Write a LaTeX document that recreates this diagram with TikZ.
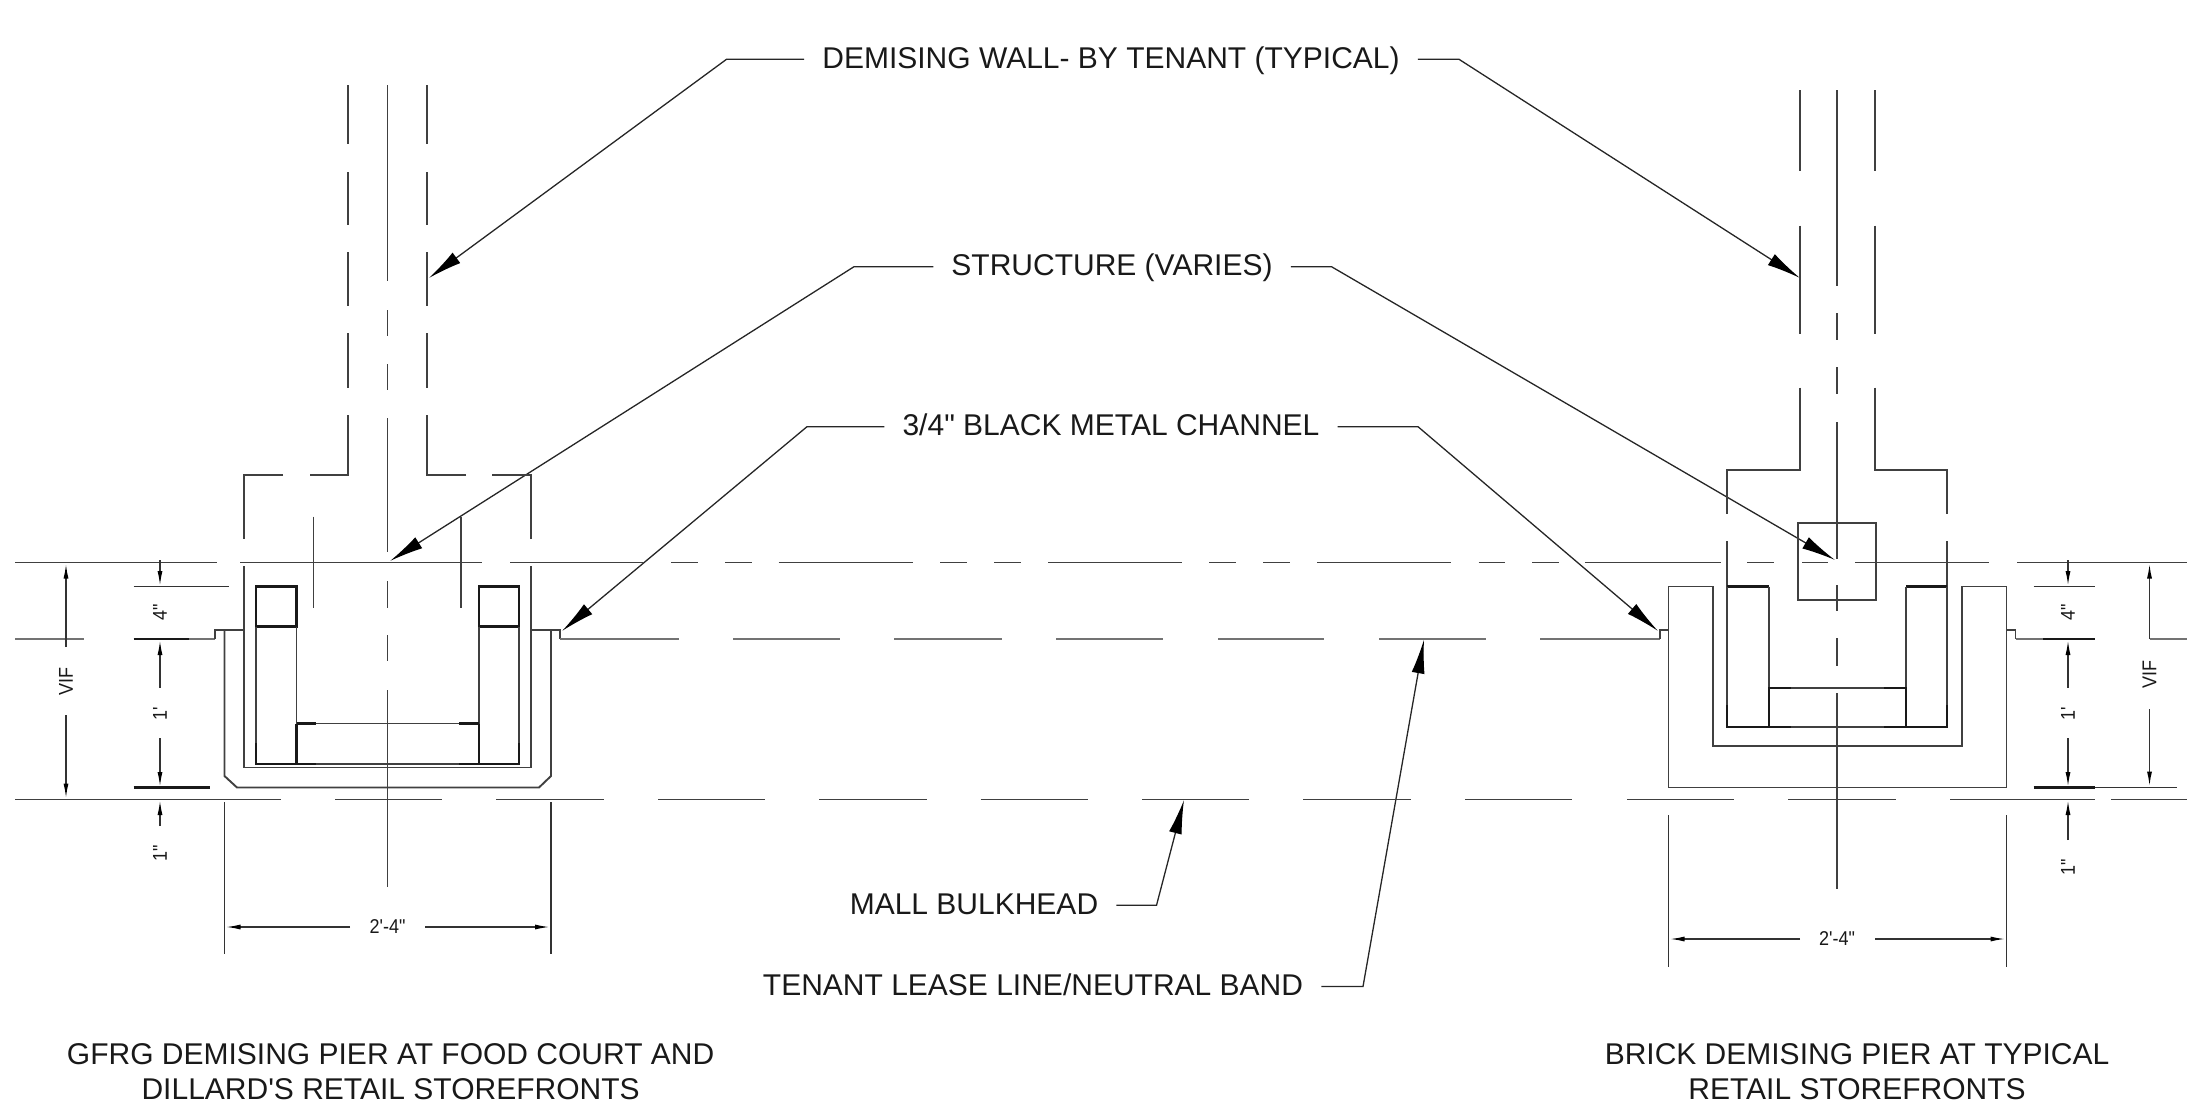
\documentclass[tikz,border=0pt]{standalone}
\usepackage{fontspec}
\usepackage{tikz}
\usetikzlibrary{arrows.meta}
\newfontfamily\cadfont{Liberation Sans}
\newfontfamily\dimfont[FakeStretch=0.9]{Liberation Sans}
\tikzset{
  plan/.style={line width=1.9pt,black!75},
  heavy/.style={line width=2.8pt,black!90},
  band/.style={line width=2.8pt,black!55},
  leader/.style={line width=1.3pt,black!85,-{Latex[length=34pt,width=13pt,black]}},
  dimline/.style={line width=1.5pt,black!80},
  dimhead/.style={dimline,-{Latex[length=15pt,width=5pt,black]}},
  callout/.style={font=\cadfont\fontsize{30}{36}\selectfont,text=black!90,inner xsep=18pt,inner ysep=0pt,text height=22pt,text depth=4pt},
  caption/.style={font=\cadfont\fontsize{30}{35}\selectfont,text=black!90,align=center,inner sep=0pt},
  dimtext/.style={font=\dimfont\fontsize{20}{24}\selectfont,text=black!90,inner sep=0pt}
}
\begin{document}
\begin{tikzpicture}[x=1pt,y=-1pt]
\useasboundingbox (0,0) rectangle (2187,1106);
% labels
\node [callout] (wall) at (1111,59.3) {DEMISING WALL- BY TENANT (TYPICAL)};
\node [callout] (struct) at (1112,266.7) {STRUCTURE (VARIES)};
\node [callout] (channel) at (1111,426.7) {3/4" BLACK METAL CHANNEL};
\node [callout] (bulkhead) at (974,905.3) {MALL BULKHEAD};
\node [callout] (lease) at (1033,986.5) {TENANT LEASE LINE/NEUTRAL BAND};
\node [caption] (capgfrg) at (390.6,1072) {GFRG DEMISING PIER AT FOOD COURT AND\\DILLARD'S RETAIL STOREFRONTS};
\node [caption] (capbrick) at (1857,1072) {BRICK DEMISING PIER AT TYPICAL\\RETAIL STOREFRONTS};
% arrow ends
\coordinate (wallL) at (429,278);
\coordinate (wallR) at (1800,278);
\coordinate (structL) at (390,561);
\coordinate (structR) at (1835,560);
\coordinate (channelL) at (562,631);
\coordinate (channelR) at (1658,631);
\coordinate (bulkheadtip) at (1184,800);
\coordinate (leasetip) at (1424,639.5);
% leaders
\draw [leader] (wall.west)--(726.5,59.3)--(wallL);
\draw [leader] (wall.east)--(1459,59.3)--(wallR);
\draw [leader] (struct.west)--(854,266.7)--(structL);
\draw [leader] (struct.east)--(1331.5,266.7)--(structR);
\draw [leader] (channel.west)--(807,426.7)--(channelL);
\draw [leader] (channel.east)--(1418,426.7)--(channelR);
\draw [leader] (bulkhead.east)--(1156.5,905.3)--(bulkheadtip);
\draw [leader] (lease.east)--(1363,986.5)--(leasetip);
% top line
\draw [plan] (15,562.5)--(217,562.5) (240,562.5)--(482,562.5) (510,562.5)--(644,562.5);
\draw [plan] (671,562.5)--(698,562.5) (725,562.5)--(752,562.5) (778.5,562.5)--(913,562.5);
\draw [plan] (940,562.5)--(966.5,562.5) (994,562.5)--(1020.5,562.5) (1048,562.5)--(1182,562.5);
\draw [plan] (1209,562.5)--(1236,562.5) (1263,562.5)--(1290,562.5) (1317,562.5)--(1451,562.5);
\draw [plan] (1478.5,562.5)--(1505,562.5) (1532,562.5)--(1558.5,562.5) (1585,562.5)--(1721,562.5);
\draw [plan] (1747,562.5)--(1774,562.5) (1802,562.5)--(1828,562.5) (1855,562.5)--(1989,562.5) (2017,562.5)--(2187,562.5);
% lease line
\draw [band] (15,639)--(84,639) (189,639)--(214.7,639);
\draw [plan] (214.7,639)--(214.7,630)--(244,630);
\draw [plan] (531,630)--(560,630)--(560,639);
\draw [band] (560,639)--(679,639) (733,639)--(840,639) (894,639)--(1001.5,639) (1056,639)--(1163,639);
\draw [band] (1218,639)--(1324,639) (1379,639)--(1486,639) (1540,639)--(1660,639);
\draw [plan] (1660,639)--(1660,630)--(1668.5,630) (2006.5,630)--(2015.5,630)--(2015.5,639);
\draw [band] (2015.5,639)--(2043,639) (2149.5,639)--(2187,639);
% bulkhead
\draw [plan] (15,799.5)--(281,799.5) (335,799.5)--(442,799.5) (496,799.5)--(604,799.5);
\draw [plan] (658,799.5)--(765,799.5) (819,799.5)--(926.5,799.5) (980.5,799.5)--(1088,799.5);
\draw [plan] (1142,799.5)--(1249,799.5) (1303,799.5)--(1410.5,799.5) (1465,799.5)--(1572,799.5);
\draw [plan] (1627,799.5)--(1734,799.5) (1788,799.5)--(1896,799.5) (1950,799.5)--(2095,799.5) (2111,799.5)--(2187,799.5);
% gfrg pier
\draw [plan] (348,85)--(348,144) (348,172)--(348,225) (348,252)--(348,306) (348,333)--(348,388);
\draw [plan] (348,415)--(348,475)--(310,475) (283,475)--(244,475)--(244,539) (244,566)--(244,767.5)--(531,767.5)--(531,566) (531,539)--(531,475)--(492,475) (466,475)--(427,475)--(427,415);
\draw [plan] (427,85)--(427,144) (427,172)--(427,225) (427,252)--(427,306) (427,333)--(427,388);
\draw [plan] (387.5,85)--(387.5,281) (387.5,310)--(387.5,336) (387.5,364)--(387.5,390) (387.5,418)--(387.5,552);
\draw [plan] (387.5,581)--(387.5,608) (387.5,635)--(387.5,661) (387.5,690)--(387.5,887);
\draw [plan] (313.5,516.5)--(313.5,608);
\draw [plan] (461,516.5)--(461,608);
\draw [plan] (224.5,630)--(224.5,776)--(237,787.5)--(539,787.5)--(551,776)--(551,630);
\draw [heavy] (256,586.5) rectangle (296.5,626.5);
\draw [heavy] (479,586.5) rectangle (519,626.5);
\draw [plan] (256,626.5)--(256,743) (296.5,626.5)--(296.5,723.5);
\draw [plan] (479,626.5)--(479,723.5) (519,626.5)--(519,743);
\draw [heavy] (256,743)--(256,764)--(316,764) (296.5,723.5)--(296.5,764);
\draw [heavy] (519,743)--(519,764)--(459,764) (479,723.5)--(479,764);
\draw [heavy] (296.5,723.5)--(316,723.5);
\draw [heavy] (459,723.5)--(479,723.5);
\draw [plan] (316,723.5)--(459,723.5);
\draw [plan] (316,764)--(459,764);
% brick pier
\draw [plan] (1800,90)--(1800,170.5) (1800,225.5)--(1800,334);
\draw [plan] (1800,387.5)--(1800,470)--(1727,470)--(1727,514) (1727,541)--(1727,586.5);
\draw [plan] (1875,90)--(1875,170.5) (1875,225.5)--(1875,334);
\draw [plan] (1875,387.5)--(1875,470)--(1947,470)--(1947,514) (1947,541)--(1947,586.5);
\draw [plan] (1837,90)--(1837,286) (1837,313)--(1837,340) (1837,367)--(1837,394) (1837,422)--(1837,559);
\draw [plan] (1837,585)--(1837,610.5) (1837,638)--(1837,666) (1837,693)--(1837,889);
\draw [plan] (1798,523) rectangle (1876,600);
\draw [plan] (1668.5,787.5)--(1668.5,586.5)--(1713,586.5)--(1713,746)--(1962,746)--(1962,586.5)--(2006.5,586.5)--(2006.5,787.5)--cycle;
\draw [heavy] (1727,586.5)--(1769,586.5);
\draw [heavy] (1906,586.5)--(1947,586.5);
\draw [plan] (1727,586.5)--(1727,705) (1769,586.5)--(1769,688);
\draw [plan] (1906,586.5)--(1906,688) (1947,586.5)--(1947,705);
\draw [heavy] (1727,705)--(1727,727)--(1791,727) (1769,688)--(1769,727)--(1769,688)--(1791,688);
\draw [heavy] (1947,705)--(1947,727)--(1884,727) (1906,688)--(1906,727)--(1906,688)--(1884,688);
\draw [plan] (1791,688)--(1884,688);
\draw [plan] (1791,727)--(1884,727);
% left dimensions
\draw [dimline] (133.5,586.5)--(229,586.5);
\draw [heavy] (133.5,639)--(189,639);
\draw [heavy] (133.5,787.5)--(209.5,787.5);
\draw [dimhead] (66,647)--(66,563.5);
\draw [dimhead] (66,715)--(66,798.5);
\draw [dimhead] (160,560)--(160,586);
\draw [dimhead] (160,687.5)--(160,640);
\draw [dimhead] (160,738)--(160,787);
\draw [dimhead] (160,826)--(160,800);
\node [dimtext,rotate=90] (vifa) at (66,681) {VIF};
\node [dimtext,rotate=90] (foura) at (160,612) {4"};
\node [dimtext,rotate=90] (onea) at (160,713.5) {1'};
\node [dimtext,rotate=90] (oneb) at (160,853) {1"};
\draw [dimline] (224.5,802)--(224.5,954);
\draw [dimline] (551,802)--(551,954);
\draw [dimhead] (350,927)--(225.5,927);
\draw [dimhead] (425,927)--(550,927);
\node [dimtext] (widtha) at (387.5,927) {2'-4"};
% right dimensions
\draw [dimline] (2033.5,586.5)--(2095,586.5);
\draw [heavy] (2043,639)--(2095,639);
\draw [heavy] (2033.5,787.5)--(2095,787.5);
\draw [dimline] (2095,787.5)--(2176.5,787.5);
\draw [dimhead] (2149.5,639)--(2149.5,563.5);
\draw [dimhead] (2149.5,709)--(2149.5,786.5);
\draw [dimhead] (2068,560)--(2068,586);
\draw [dimhead] (2068,687.5)--(2068,640);
\draw [dimhead] (2068,738)--(2068,787);
\draw [dimhead] (2068,840)--(2068,800);
\node [dimtext,rotate=90] (vifb) at (2149.5,674.5) {VIF};
\node [dimtext,rotate=90] (fourb) at (2068,612) {4"};
\node [dimtext,rotate=90] (onec) at (2068,713.5) {1'};
\node [dimtext,rotate=90] (oned) at (2068,867.5) {1"};
\draw [dimline] (1668.5,815)--(1668.5,967);
\draw [dimline] (2006.5,815)--(2006.5,967);
\draw [dimhead] (1800,939)--(1669.5,939);
\draw [dimhead] (1875,939)--(2005.5,939);
\node [dimtext] (widthb) at (1837,939) {2'-4"};
\end{tikzpicture}
\end{document}
